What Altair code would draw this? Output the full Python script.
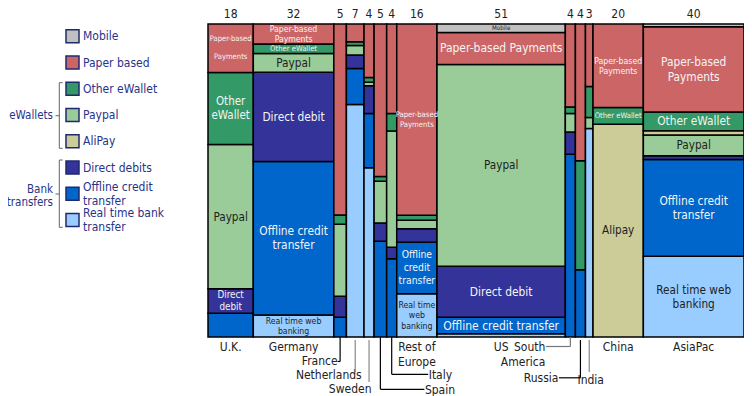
import altair as alt
import pandas as pd

# ---------------- data ----------------
countries = ["U.K.", "Germany", "France", "Netherlands", "Sweden", "Spain", "Italy",
             "Rest of Europe", "US", "South America", "Russia", "India", "China", "AsiaPac"]
totals = [18, 32, 5, 7, 4, 5, 4, 16, 51, 4, 4, 3, 20, 40]

# stacked bottom -> top
categories = ["Real time bank transfer", "Offline credit transfer", "Direct debits",
              "Paypal", "AliPay", "Other eWallet", "Paper based", "Mobile"]
real_time = [0, 7.0, 0, 74.3, 54.1, 0, 0, 13.8, 1.0, 0, 0, 66.6, 0, 25.8]
offline = [7.6, 49.1, 6.3, 11.5, 17.3, 30.6, 25.0, 16.5, 5.3, 58.4, 21.5, 0, 0, 30.9]
direct = [7.8, 28.5, 6.7, 4.3, 8.9, 5.8, 3.7, 4.3, 16.3, 7.1, 0, 0, 0, 1.2]
paypal = [46.1, 6.0, 23.0, 3.0, 1.1, 13.4, 37.1, 2.7, 64.5, 5.9, 0, 3.5, 0, 6.6]
alipay = [0, 0, 0, 0, 0, 0, 0, 0, 0, 0, 0, 0, 68.0, 1.4]
other_ewallet = [23.0, 3.0, 3.0, 1.2, 1.5, 1.5, 5.6, 1.6, 0, 2.1, 34.8, 9.9, 5.3, 6.0]
paper = [15.5, 6.4, 61.0, 5.7, 17.1, 48.7, 28.6, 61.1, 10.2, 26.5, 43.7, 20.0, 26.7, 27.2]
mobile = [0, 0, 0, 0, 0, 0, 0, 0, 2.7, 0, 0, 0, 0, 0.9]
series = [real_time, offline, direct, paypal, alipay, other_ewallet, paper, mobile]

legend_order = ["Mobile", "Paper based", "Other eWallet", "Paypal", "AliPay",
                "Direct debits", "Offline credit transfer", "Real time bank transfer"]
legend_labels = ["Mobile", "Paper based", "Other eWallet", "Paypal", "AliPay",
                 "Direct debits", "Offline credit\ntransfer", "Real time bank\ntransfer"]
group_labels = ["eWallets", "Bank\ntransfers"]

cell_labels = [
    ("U.K.", "Paper based", "Paper-based\nPayments"),
    ("U.K.", "Other eWallet", "Other\neWallet"),
    ("U.K.", "Paypal", "Paypal"),
    ("U.K.", "Direct debits", "Direct\ndebit"),
    ("Germany", "Paper based", "Paper-based\nPayments"),
    ("Germany", "Other eWallet", "Other eWallet"),
    ("Germany", "Paypal", "Paypal"),
    ("Germany", "Direct debits", "Direct debit"),
    ("Germany", "Offline credit transfer", "Offline credit\ntransfer"),
    ("Germany", "Real time bank transfer", "Real time web\nbanking"),
    ("Rest of Europe", "Paper based", "Paper-based\nPayments"),
    ("Rest of Europe", "Offline credit transfer", "Offline\ncredit\ntransfer"),
    ("Rest of Europe", "Real time bank transfer", "Real time\nweb\nbanking"),
    ("US", "Mobile", "Mobile"),
    ("US", "Paper based", "Paper-based Payments"),
    ("US", "Paypal", "Paypal"),
    ("US", "Direct debits", "Direct debit"),
    ("US", "Offline credit transfer", "Offline credit transfer"),
    ("China", "Paper based", "Paper-based\nPayments"),
    ("China", "Other eWallet", "Other eWallet"),
    ("China", "AliPay", "Alipay"),
    ("AsiaPac", "Paper based", "Paper-based\nPayments"),
    ("AsiaPac", "Other eWallet", "Other eWallet"),
    ("AsiaPac", "Paypal", "Paypal"),
    ("AsiaPac", "Offline credit transfer", "Offline credit\ntransfer"),
    ("AsiaPac", "Real time bank transfer", "Real time web\nbanking"),
]
bottom_texts = {"Rest of Europe": "Rest of\nEurope", "South America": "South\nAmerica"}

# ---------------- styles / layout ----------------
FONT = "DejaVu Sans Condensed"
W, H = 536, 313
colors = {
    "Mobile": "#c0c0c0", "Paper based": "#cc6666", "Other eWallet": "#339966",
    "Paypal": "#99cc99", "AliPay": "#cccc99", "Direct debits": "#333399",
    "Offline credit transfer": "#0066cc", "Real time bank transfer": "#99ccff",
}
dark_fill = {"Mobile", "Paypal", "AliPay", "Real time bank transfer"}
cell_style = [  # (font size, line height) for each cell label, in order
    (7.6, 18), (11.5, 14), (11.7, 12), (9.8, 11.3),
    (8.6, 10.5), (7.6, 10), (11.7, 12), (11.8, 12), (11.8, 14), (8.7, 10),
    (7.7, 10), (10.3, 13), (8.7, 10.5),
    (6.2, 8), (12, 12), (11.7, 12), (11.9, 12), (12, 12),
    (8.7, 10), (7.6, 10), (11.6, 12),
    (11.8, 14.5), (11.8, 14), (11.7, 12), (11.8, 14), (11.7, 14),
]
k = W / sum(totals)


def u(px):
    return px / k


# bottom label layout: align, dx (px), y (px, text top)
label_layout = {
    "U.K.": ("center", 0, 317.5), "Germany": ("center", 0, 317.5),
    "France": ("right", -2.5, 332), "Netherlands": ("right", 6.5, 345.5),
    "Sweden": ("right", 2.5, 359.5), "Spain": ("left", 44.5, 360.5),
    "Italy": ("left", 37, 345.5), "Rest of Europe": ("center", 0, 317.5),
    "US": ("center", 0, 317.5), "South America": ("right", -25, 317.5),
    "Russia": ("right", -22, 348.8), "India": ("center", 1.5, 350.5),
    "China": ("center", 0, 317.5), "AsiaPac": ("center", 0, 317.5),
}
# leader lines: vertical (y1, y2) and optional horizontal (dx from centre, y), colour
leaders = {
    "France": ((313, 337.5), (-2.5, 337.5), "#000000"),
    "Netherlands": ((316, 348), None, "#888888"),
    "Sweden": ((316, 358), None, "#888888"),
    "Spain": ((313, 365.3), (44, 365.3), "#000000"),
    "Italy": ((313, 350.3), (36.5, 350.3), "#000000"),
    "South America": ((313, 322.5), (-24.5, 322.5), "#777777"),
    "Russia": ((316, 353.8), (-21.5, 353.8), "#000000"),
    "India": ((316, 348), None, "#888888"),
}

# ---------------- build tables ----------------
rows, centers, seg = [], {}, {}
cum = 0
for i, c in enumerate(countries):
    x0, x1 = cum, cum + totals[i]
    cum = x1
    centers[c] = (x0 + x1) / 2
    y = 0
    for cat, arr in zip(categories, series):
        v = arr[i]
        if v > 0:
            rows.append(dict(country=c, category=cat, x0=x0, x1=x1, y0=y, y1=y + v))
            seg[(c, cat)] = (centers[c], y + v / 2)
            y += v
bar_df = pd.DataFrame(rows)

xs = alt.Scale(domain=[0, sum(totals)], nice=False, zero=False)
ys = alt.Scale(domain=[0, 100], nice=False, zero=False)
cscale = alt.Scale(domain=list(colors.keys()), range=list(colors.values()))

bars = alt.Chart(bar_df).mark_rect(stroke="black", strokeWidth=1.5).encode(
    x=alt.X("x0:Q", scale=xs, axis=alt.Axis(labels=False, ticks=False, grid=False, title=None,
                                            domainColor="black", domainWidth=1.5)),
    x2="x1:Q",
    y=alt.Y("y0:Q", scale=ys, axis=alt.Axis(values=[0, 20, 40, 60, 80, 100], grid=False, title=None,
                                            labelExpr="datum.value == 100 ? '100%' : datum.label",
                                            tickSize=5, tickColor="black", domainColor="black",
                                            labelColor="#222222", labelFontSize=12, labelFont=FONT,
                                            labelPadding=2)),
    y2="y1:Q",
    color=alt.Color("category:N", scale=cscale, legend=None),
)

layers = [bars]

for (c, cat, txt), (fs, lh) in zip(cell_labels, cell_style):
    cx, cy = seg[(c, cat)]
    n = txt.count("\n") + 1
    d = pd.DataFrame([dict(cx=cx, cy=cy, t=txt)])
    layers.append(alt.Chart(d).mark_text(
        font=FONT, fontSize=fs, lineHeight=lh, lineBreak="\n", baseline="middle", align="center",
        dy=-(n - 1) * lh / 2,
        color="#1e1e1e" if cat in dark_fill else "#f4f4f4").encode(
        x=alt.X("cx:Q", scale=xs, axis=None), y=alt.Y("cy:Q", scale=ys, axis=None), text="t:N"))

tot_df = pd.DataFrame(dict(cx=[centers[c] for c in countries], t=[str(t) for t in totals]))
layers.append(alt.Chart(tot_df).mark_text(font=FONT, fontSize=12, baseline="bottom", color="#222222").encode(
    x=alt.X("cx:Q", scale=xs, axis=None), y=alt.value(-3), text="t:N"))

for al in ["left", "center", "right"]:
    recs = []
    for c in countries:
        a, dx, ly = label_layout[c]
        if a == al:
            recs.append(dict(lx=centers[c] + u(dx), ly=ly, t=bottom_texts.get(c, c)))
    d = pd.DataFrame(recs)
    layers.append(alt.Chart(d).mark_text(font=FONT, fontSize=12, baseline="top", align=al,
                                         lineBreak="\n", lineHeight=15, color="#222222").encode(
        x=alt.X("lx:Q", scale=xs, axis=None), y=alt.Y("ly:Q", scale=None), text="t:N"))

vrec, hrec = [], []
for c, (v, h, col) in leaders.items():
    vrec.append(dict(x=centers[c], y=v[0], y2=v[1], col=col))
    if h:
        hrec.append(dict(x=centers[c], x2=centers[c] + u(h[0]), y=h[1], col=col))
layers.append(alt.Chart(pd.DataFrame(vrec)).mark_rule(strokeWidth=1.2).encode(
    x=alt.X("x:Q", scale=xs, axis=None), y=alt.Y("y:Q", scale=None), y2="y2:Q",
    color=alt.Color("col:N", scale=None)))
layers.append(alt.Chart(pd.DataFrame(hrec)).mark_rule(strokeWidth=1.2).encode(
    x=alt.X("x:Q", scale=xs, axis=None), x2="x2:Q", y=alt.Y("y:Q", scale=None),
    color=alt.Color("col:N", scale=None)))

# legend (pixel coordinates relative to plot origin)
lrec = []
for i, (cat, lab) in enumerate(zip(legend_order, legend_labels)):
    yc = 12.3 + i * 26.25
    n = lab.count("\n") + 1
    lrec.append(dict(cat=cat, lab=lab, sx=-142, sx2=-129, sy=yc - 6.5, sy2=yc + 6.5, tx=-125,
                     ty=yc - (n - 1) * 13.5 / 2))
ldf = pd.DataFrame(lrec)
layers.append(alt.Chart(ldf).mark_rect(stroke="#1f2a6e", strokeWidth=1.5).encode(
    x=alt.X("sx:Q", scale=None), x2="sx2:Q", y=alt.Y("sy:Q", scale=None), y2="sy2:Q",
    color=alt.Color("cat:N", scale=cscale, legend=None)))
layers.append(alt.Chart(ldf).mark_text(font=FONT, fontSize=12, align="left", baseline="middle",
                                       lineBreak="\n", lineHeight=13.5, color="#28338a").encode(
    x=alt.X("tx:Q", scale=None), y=alt.Y("ty:Q", scale=None), text="lab:N"))

gdf = pd.DataFrame(dict(gx=[-155, -155], gy=[91.7, 172.4 - 13.5 / 2], t=group_labels))
layers.append(alt.Chart(gdf).mark_text(font=FONT, fontSize=11.5, align="right", baseline="middle",
                                       lineBreak="\n", lineHeight=13.5, color="#28338a").encode(
    x=alt.X("gx:Q", scale=None), y=alt.Y("gy:Q", scale=None), text="t:N"))

brk = []
for (top, mid, bot) in [(58.7, 91.7, 124.3), (136, 170, 203.3)]:
    brk += [dict(x=-148.7, x2=-148.7, y=top, y2=bot),
            dict(x=-148.7, x2=-145.3, y=top, y2=top),
            dict(x=-148.7, x2=-145.3, y=bot, y2=bot),
            dict(x=-152.5, x2=-148.7, y=mid, y2=mid)]
layers.append(alt.Chart(pd.DataFrame(brk)).mark_rule(color="#666666", strokeWidth=1).encode(
    x=alt.X("x:Q", scale=None), x2="x2:Q", y=alt.Y("y:Q", scale=None), y2="y2:Q"))

chart = alt.layer(*layers).properties(
    width=W, height=H,
    padding={"left": 200, "top": 16, "right": 0, "bottom": 59},
    autosize=alt.AutoSizeParams(type="none"),
).configure_view(stroke=None)

chart.save("out.html", embed_options={"renderer": "svg", "actions": False})
